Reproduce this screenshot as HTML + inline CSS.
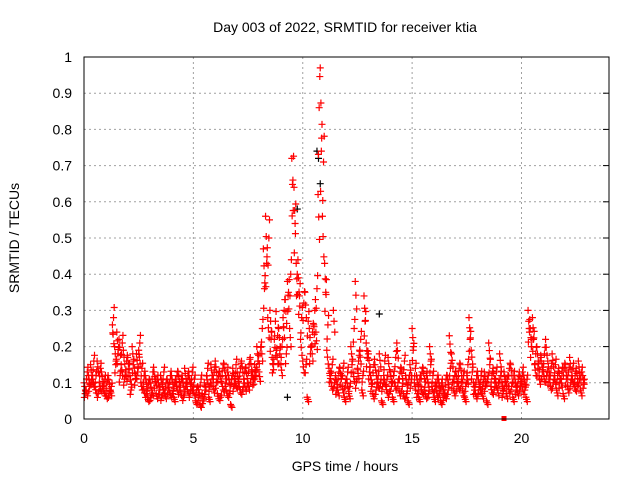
<!DOCTYPE html>
<html><head><meta charset="utf-8"><style>
body{margin:0;background:#fff}
svg{display:block;font-family:"Liberation Sans",sans-serif}
</style></head><body>
<svg id="chart" width="640" height="480" viewBox="0 0 640 480">
<rect width="640" height="480" fill="#fff"/>
<text x="345" y="32" font-size="14" text-anchor="middle" fill="#000">Day 003 of 2022, SRMTID for receiver ktia</text>
<g id="grid"></g>
<g id="axes"></g>
<g id="pts"></g>
<rect x="84" y="57" width="525" height="362" fill="none" stroke="#000" stroke-width="1"/>
<text x="345" y="471" font-size="14" text-anchor="middle">GPS time / hours</text>
<text transform="translate(19,238) rotate(-90)" font-size="14" text-anchor="middle">SRMTID / TECUs</text>
</svg>
<script>
const xTicks=[0,5,10,15,20];
const yTicks=[0,0.1,0.2,0.3,0.4,0.5,0.6,0.7,0.8,0.9,1];
const yTickLabels=["0","0.1","0.2","0.3","0.4","0.5","0.6","0.7","0.8","0.9","1"];
const tStep=0.1;
const seriesA=[.10,.08,.12,.15,.11,.09,.16,.10,.13,.08,
.07,.12,.08,.26,.20,.24,.22,.15,.19,.13,
.17,.12,.20,.14,.18,.19,.10,.09,.12,.06,
.11,.08,.13,.07,.10,.12,.09,.07,.11,.08,
.12,.06,.10,.13,.08,.11,.14,.09,.12,.10,
.08,.05,.09,.04,.07,.10,.12,.06,.15,.09,
.16,.07,.13,.10,.15,.08,.12,.04,.14,.11,
.13,.09,.16,.11,.14,.10,.17,.12,.15,.20,
.13,.20,.47,.56,.28,.30,.17,.22,.19,.25,
.15,.28,.33,.38,.25,.72,.64,.43,.39,.22,
.16,.35,.06,.25,.20,.26,.24,.62,.97,.56,
.43,.19,.14,.10,.30,.12,.08,.14,.09,.06,
.11,.07,.20,.13,.38,.14,.19,.08,.34,.21,
.18,.12,.07,.15,.11,.18,.05,.12,.09,.17,
.13,.06,.10,.21,.08,.14,.07,.12,.05,.15,
.25,.10,.12,.06,.09,.14,.07,.11,.20,.09,
.06,.08,.11,.05,.09,.07,.12,.23,.18,.08,
.13,.10,.15,.08,.06,.12,.28,.19,.10,.07,
.12,.09,.07,.13,.05,.21,.09,.14,.11,.08,
.18,.10,.13,.07,.09,.15,.06,.11,.08,.13,
.10,.12,.06,.30,.25,.28,.15,.20,.12,.17,
.13,.22,.16,.10,.18,.12,.08,.14,.11,.07,
.15,.09,.17,.12,.10,.14,.16,.08,.12];
const seriesB=[.07,.13,.09,.11,.16,.12,.07,.14,.09,.11,
.10,.07,.09,.28,.15,.18,.12,.21,.11,.16,
.14,.08,.15,.11,.13,.21,.14,.12,.07,.10,
.06,.13,.10,.11,.08,.06,.13,.10,.08,.12,
.07,.10,.12,.08,.11,.06,.09,.12,.07,.13,
.11,.08,.06,.11,.05,.08,.14,.09,.11,.13,
.10,.12,.06,.14,.09,.13,.07,.11,.09,.15,
.10,.14,.08,.13,.09,.15,.12,.11,.13,.16,
.18,.25,.36,.43,.50,.22,.15,.27,.23,.18,
.20,.30,.18,.35,.40,.66,.54,.40,.34,.28,
.32,.15,.27,.18,.24,.30,.36,.86,.74,.71,
.35,.26,.12,.15,.10,.08,.13,.11,.14,.10,
.13,.09,.15,.25,.10,.16,.22,.12,.27,.17,
.13,.09,.15,.08,.12,.10,.09,.16,.11,.07,
.09,.12,.17,.10,.13,.09,.16,.07,.11,.10,
.19,.14,.07,.11,.13,.08,.12,.07,.15,.12,
.09,.11,.07,.10,.06,.11,.08,.14,.10,.12,
.09,.14,.10,.12,.09,.15,.22,.13,.08,.12,
.08,.12,.10,.09,.11,.15,.12,.08,.13,.10,
.12,.07,.10,.11,.14,.09,.12,.08,.11,.09,
.13,.08,.11,.25,.20,.22,.18,.14,.16,.13,
.18,.12,.11,.14,.10,.15,.12,.10,.13,.14,
.11,.13,.10,.14,.12,.09,.11,.13,.10];
const blackT=[9.3,9.75,10.65,10.72,10.8,13.5];
const blackV=[0.06,0.58,0.74,0.72,0.65,0.29];
const X0=84,X1=609,Y0=419,Y1=57,XMAX=24;
const xs=v=>X0+(X1-X0)*v/XMAX;
const ys=v=>Y0-(Y0-Y1)*v;
const NS="http://www.w3.org/2000/svg";
const grid=document.getElementById('grid'),axes=document.getElementById('axes'),pts=document.getElementById('pts');
function mk(tag,at,parent){const e=document.createElementNS(NS,tag);for(const k in at)e.setAttribute(k,at[k]);parent.appendChild(e);return e;}
xTicks.forEach(t=>{const x=xs(t);
 if(t>0){const g=mk('line',{x1:x,x2:x,y1:Y0,y2:Y1,stroke:'#a0a0a0','stroke-dasharray':'2,3'},grid);
 
 }
 const l=mk('text',{x:x,y:Y0+24,'font-size':14,'text-anchor':'middle'},axes);l.textContent=t;
 
 
});
yTicks.forEach((t,i)=>{const y=ys(t);
 if(t>0&&t<1){const g=mk('line',{x1:X0,x2:X1,y1:y,y2:y,stroke:'#a0a0a0','stroke-dasharray':'2,3'},grid);
 
 }
 mk('line',{x1:X1-6,x2:X1,y1:y,y2:y,stroke:'#000'},axes);
 const l=mk('text',{x:X0-12,y:y+5,'font-size':14,'text-anchor':'end'},axes);l.textContent=yTickLabels[i];
 
 
});
function cross(x,y,c){const p=mk('path',{d:`M${x-3.5},${y}h7M${x},${y-3.5}v7`,stroke:c,'stroke-width':1.2,fill:'none'},pts);
 
 }
blackT.forEach((t,i)=>cross(xs(t),ys(blackV[i]),'#000'));
seriesA.forEach((v,i)=>{cross(xs(i*tStep),ys(v),'#f00');cross(xs(i*tStep+0.03),ys(v*0.9),'#f00');cross(xs(i*tStep+0.065),ys(v*0.8),'#f00');});
seriesB.forEach((v,i)=>{cross(xs(i*tStep+0.05),ys(v),'#f00');cross(xs(i*tStep+0.08),ys(v*1.1),'#f00');cross(xs(i*tStep+0.015),ys(v*0.85),'#f00');});
const sq=mk('rect',{x:xs(19.2)-2.5,y:Y0-3,width:5,height:5,fill:'#f00'},pts);


</script>
</body></html>
